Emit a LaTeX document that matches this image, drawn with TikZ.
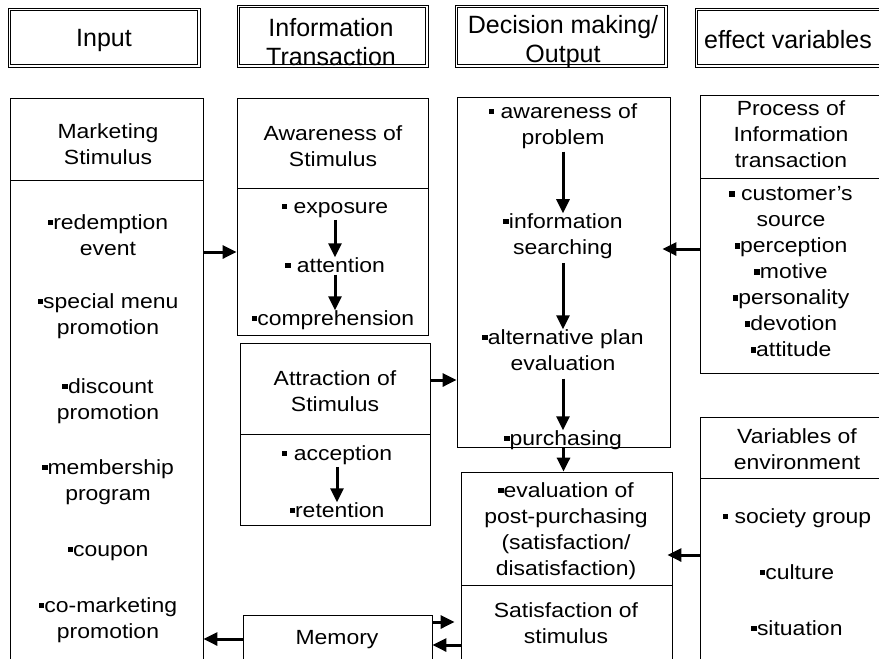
\documentclass[tikz,border=0pt]{standalone}
\usepackage{fontspec}
\setmainfont[FakeStretch=1.12]{Liberation Sans}
\newfontfamily\hdfont{Liberation Sans}
\usetikzlibrary{arrows.meta,calc}
\newcommand\sq{\rule[0.2em]{0.27em}{0.27em}}
\newcommand\mybox[6][box]{\node[#1, minimum width={#5-#3}, minimum height={#6-#4}] (#2) at ({(#3+#5)/2},{(#4+#6)/2}) {};}
\begin{document}
\begin{tikzpicture}[x=1pt,y=-1pt,
  box/.style={draw, line width=0.8pt, inner sep=0pt},
  headbox/.style={draw, line width=0.8pt, inner sep=0pt},
  inner/.style={line width=0.7pt},
  txt/.style={align=center, font=\fontsize{20.5}{26}\selectfont, inner sep=0pt},
  htxt/.style={align=center, font=\hdfont\fontsize{25}{29}\selectfont, inner sep=0pt},
  arr/.style={line width=3pt, -{Triangle[width=13pt,length=14pt]}},
]
\useasboundingbox (0,0) rectangle (879,659);
% header boxes
\mybox[headbox]{hIn}{8}{8}{200}{67}
\mybox[headbox]{hIT}{237}{5}{428}{67}
\mybox[headbox]{hDM}{455}{5}{667}{67}
\mybox[headbox]{hEV}{695}{8}{895}{67}
\foreach \h in {hIn,hIT,hDM,hEV}{
  \draw[inner] ([shift={(2.6pt,-2.6pt)}]\h.north west) rectangle ([shift={(-2.6pt,2.6pt)}]\h.south east);
}
\node[htxt] (tIn) at (104,40) {Input};
\node[htxt] (tIT) at (331,42) {Information\\Transaction};
\node[htxt] (tDM) at (563,42) {Decision making/\\Output};
\node[htxt] (tEV) at (788,40) {effect variables};
% left column
\mybox{ms}{10}{98}{203}{180}
\mybox{msb}{10}{180}{203}{675}
\node[txt] (m0) at (108,144) {Marketing\\Stimulus};
\node[txt] (m1) at (108,235) {\sq redemption\\event};
\node[txt] (m2) at (108,316) {\sq special menu\\promotion};
\node[txt] (m3) at (108,401) {\sq discount\\promotion};
\node[txt] (m4) at (108,482) {\sq membership\\program};
\node[txt] (m5) at (108,553) {\sq coupon};
\node[txt] (m6) at (108,620) {\sq co-marketing\\promotion};
% awareness
\mybox{aw}{237}{98}{428}{188}
\mybox{awb}{237}{188}{428}{335}
\node[txt] (aw0) at (333,146) {Awareness of\\Stimulus};
\node[txt] (aw1) at (335,210) {\sq\ exposure};
\node[txt] (aw2) at (335,265) {\sq\ attention};
\node[txt] (aw3) at (333,320) {\sq comprehension};
% attraction
\mybox{atr}{240}{343}{430}{434}
\mybox{atrb}{240}{434}{430}{525}
\node[txt] (at0) at (335,391) {Attraction of\\Stimulus};
\node[txt] (at1) at (337,455) {\sq\ acception};
\node[txt] (at2) at (337,510) {\sq retention};
% memory
\mybox{mem}{243}{615}{432}{675}
\node[txt] (me0) at (337,640) {Memory};
% decision
\mybox{dec}{457}{97}{670}{447}
\node[txt] (d1) at (563,126) {\sq\ awareness of\\problem};
\node[txt] (d2) at (563,236) {\sq information\\searching};
\node[txt] (d3) at (563,350) {\sq alternative plan\\evaluation};
\node[txt] (d4) at (563,440) {\sq purchasing};
% evaluation
\mybox{ev}{461}{472}{672}{585}
\mybox{sat}{461}{585}{672}{675}
\node[txt] (e1) at (566,531) {\sq evaluation of\\post-purchasing\\(satisfaction/\\disatisfaction)};
\node[txt] (s1) at (566,623) {Satisfaction of\\stimulus};
% process
\mybox{pr}{700}{95}{895}{178}
\mybox{prb}{700}{178}{895}{373}
\node[txt] (p0) at (791,134) {Process of\\Information\\transaction};
\node[txt] (p1) at (791,272) {\sq\ customer’s\\source\\\sq perception\\\sq motive\\\sq personality\\\sq devotion\\\sq attitude};
% environment
\mybox{env}{700}{417}{895}{478}
\mybox{envb}{700}{478}{895}{675}
\node[txt] (v0) at (797,449) {Variables of\\environment};
\node[txt] (v1) at (797,518) {\sq\ society group};
\node[txt] (v2) at (797,572) {\sq culture};
\node[txt] (v3) at (797,628) {\sq situation};
% internal arrows
\draw[arr, shorten <=2pt] (aw1.south) -- (aw2.north);
\draw[arr, shorten <=2pt] (aw2.south) -- (aw2.south |- aw3.north);
\draw[arr, shorten <=2pt] (at1.south) -- (at2.north);
\draw[arr, shorten <=3pt] (d1.south) -- (d2.north);
\draw[arr, shorten <=4pt] (d2.south) -- (d3.north);
\draw[arr, shorten <=8pt] (d3.south) -- (d4.north);
\draw[arr] (dec.south) -- (dec.south |- ev.north);
% connecting arrows
\draw[arr] (msb.east |- 0,252) -- (awb.west |- 0,252);
\draw[arr] (atr.east |- 0,380) -- (dec.west |- 0,380);
\draw[arr] (prb.west |- 0,249) -- ([xshift=-8pt]dec.east |- 0,249);
\draw[arr] (envb.west |- 0,555) -- ([xshift=-5pt]ev.east |- 0,555);
\draw[arr] (mem.west |- 0,639) -- (msb.east |- 0,639);
\draw[arr] (mem.east |- 0,622) -- ([xshift=-6pt]sat.west |- 0,622);
\draw[arr] (sat.west |- 0,645) -- (mem.east |- 0,645);
\end{tikzpicture}
\end{document}
